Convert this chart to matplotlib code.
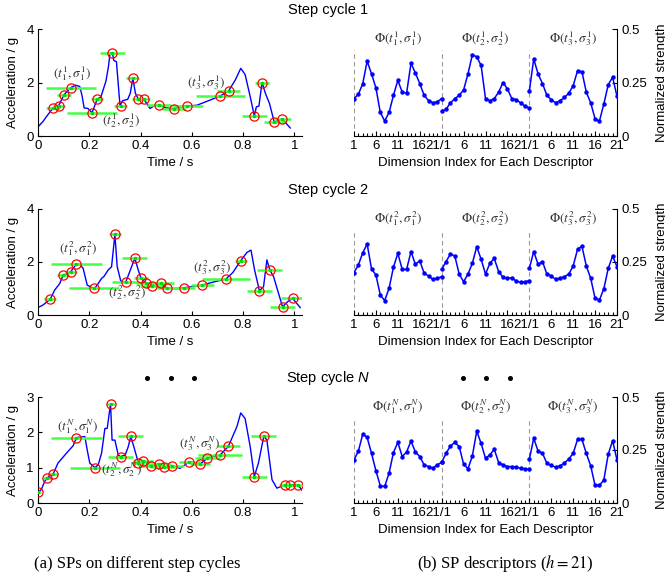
import matplotlib
matplotlib.use('Agg')
import matplotlib.pyplot as plt
import numpy as np
from matplotlib.ticker import MultipleLocator, FixedLocator
from matplotlib.lines import Line2D
from matplotlib.transforms import ScaledTranslation

plt.rcParams['font.family'] = ['Liberation Sans', 'DejaVu Sans']
plt.rcParams['mathtext.fontset'] = 'custom'
plt.rcParams['mathtext.it'] = 'Liberation Sans:italic'
plt.rcParams['mathtext.rm'] = 'Liberation Sans'

# ---------------- data: acceleration curves ----------------
curve1_t = [0, 0.02, 0.035, 0.059, 0.081, 0.102, 0.128, 0.147, 0.163, 0.172, 0.18, 0.195, 0.211, 0.231,
            0.245, 0.265, 0.275, 0.281, 0.29, 0.296, 0.306, 0.32, 0.33, 0.35, 0.36, 0.37, 0.38, 0.391,
            0.413, 0.437, 0.456, 0.472, 0.5, 0.531, 0.56, 0.583, 0.62, 0.66, 0.712, 0.744, 0.77, 0.791,
            0.808, 0.828, 0.844, 0.852, 0.862, 0.874, 0.887, 0.903, 0.922, 0.94, 0.953, 0.984]
curve1_y = [0.34, 0.55, 0.75, 1.05, 1.14, 1.55, 1.81, 1.9, 1.85, 1.5, 1.05, 1.03, 0.87, 1.38,
            1.45, 2.05, 2.6, 3.1, 3.1, 2.82, 2.78, 1.12, 1.32, 1.37, 1.6, 2.16, 1.6, 1.38,
            1.38, 1.03, 1.14, 1.15, 1.05, 1.02, 1.1, 1.12, 1.15, 1.3, 1.5, 1.69, 2.1, 2.53,
            2.3, 1.47, 0.75, 1.09, 1.12, 2.0, 1.6, 1.22, 0.51, 0.6, 0.64, 0.3]

curve2_t = [0, 0.02, 0.048, 0.065, 0.085, 0.098, 0.112, 0.128, 0.15, 0.163, 0.176, 0.192, 0.209, 0.222,
            0.235, 0.248, 0.257, 0.274, 0.287, 0.3, 0.309, 0.323, 0.342, 0.365, 0.378, 0.391, 0.402,
            0.42, 0.443, 0.48, 0.502, 0.54, 0.571, 0.61, 0.641, 0.691, 0.733, 0.76, 0.791, 0.815,
            0.831, 0.845, 0.864, 0.88, 0.893, 0.904, 0.919, 0.954, 0.974, 0.993, 1.023]
curve2_y = [0.28, 0.38, 0.6, 0.94, 1.19, 1.51, 1.55, 1.64, 1.92, 1.91, 1.76, 1.13, 1.04, 1.01,
            1.19, 1.38, 1.45, 1.7, 1.82, 3.04, 1.82, 1.28, 1.23, 1.82, 2.14, 1.7, 1.38,
            1.22, 1.11, 1.19, 1.01, 1.0, 1.03, 1.08, 1.13, 1.26, 1.36, 1.6, 2.05, 2.36,
            2.45, 1.7, 0.91, 1.07, 2.08, 1.71, 1.45, 0.31, 0.5, 0.63, 0.28]

curve3_t = [0, 0.013, 0.026, 0.037, 0.059, 0.078, 0.111, 0.137, 0.15, 0.17, 0.183, 0.192, 0.202, 0.222,
            0.235, 0.248, 0.261, 0.27, 0.283, 0.289, 0.3, 0.313, 0.322, 0.34, 0.352, 0.362, 0.374,
            0.392, 0.411, 0.441, 0.471, 0.492, 0.522, 0.554, 0.591, 0.632, 0.661, 0.711, 0.743,
            0.776, 0.791, 0.808, 0.828, 0.844, 0.86, 0.881, 0.893, 0.913, 0.932, 0.962, 0.984,
            1.014, 1.03]
curve3_y = [0.3, 0.38, 0.61, 0.72, 0.82, 1.13, 1.41, 1.62, 1.85, 1.87, 1.88, 1.5, 1.13, 1.0,
            1.08, 1.41, 2.11, 2.11, 2.81, 1.78, 1.78, 1.36, 1.31, 1.36, 1.59, 1.89, 1.59,
            1.13, 1.2, 1.06, 1.11, 1.01, 1.06, 0.98, 1.17, 1.1, 1.27, 1.36, 1.61,
            2.16, 2.55, 2.39, 1.59, 0.75, 1.13, 1.89, 1.78, 0.66, 0.42, 0.51, 0.52,
            0.52, 0.36]

# ---------------- data: scale points (time, value, scale) ----------------
sp1_t = [0.059, 0.081, 0.102, 0.128, 0.211, 0.231, 0.29, 0.322, 0.370, 0.391, 0.413, 0.472,
         0.531, 0.583, 0.712, 0.744, 0.844, 0.874, 0.922, 0.953]
sp1_y = [1.05, 1.14, 1.55, 1.81, 0.87, 1.38, 3.10, 1.12, 2.16, 1.38, 1.38, 1.15,
         1.02, 1.12, 1.50, 1.69, 0.75, 2.00, 0.51, 0.64]
sp1_s = [0.026, 0.023, 0.026, 0.098, 0.098, 0.023, 0.049, 0.026, 0.026, 0.023, 0.023, 0.046,
         0.046, 0.059, 0.095, 0.046, 0.049, 0.026, 0.042, 0.033]

sp2_t = [0.048, 0.098, 0.128, 0.150, 0.219, 0.300, 0.342, 0.378, 0.402, 0.420, 0.443, 0.480,
         0.502, 0.571, 0.641, 0.733, 0.791, 0.864, 0.904, 0.954, 0.993]
sp2_y = [0.60, 1.51, 1.64, 1.92, 1.01, 3.04, 1.23, 2.14, 1.38, 1.22, 1.11, 1.19,
         1.01, 1.03, 1.13, 1.36, 2.05, 0.91, 1.71, 0.31, 0.63]
sp2_s = [0.024, 0.023, 0.023, 0.098, 0.098, 0.023, 0.052, 0.049, 0.026, 0.039, 0.046, 0.052,
         0.039, 0.042, 0.046, 0.095, 0.023, 0.049, 0.049, 0.049, 0.046]

sp3_t = [0.001, 0.037, 0.059, 0.150, 0.222, 0.283, 0.322, 0.362, 0.392, 0.411, 0.441, 0.471,
         0.492, 0.522, 0.591, 0.632, 0.661, 0.711, 0.743, 0.844, 0.881, 0.962, 0.984, 1.014]
sp3_y = [0.30, 0.72, 0.82, 1.85, 1.00, 2.81, 1.31, 1.89, 1.13, 1.20, 1.06, 1.11,
         1.01, 1.06, 1.17, 1.10, 1.27, 1.36, 1.61, 0.75, 1.89, 0.51, 0.52, 0.52]
sp3_s = [0.011, 0.016, 0.020, 0.098, 0.096, 0.016, 0.049, 0.049, 0.026, 0.039, 0.046, 0.046,
         0.046, 0.046, 0.042, 0.039, 0.049, 0.085, 0.046, 0.049, 0.049, 0.023, 0.026, 0.023]

# ---------------- data: SP descriptors (21 dims each) ----------------
desc1 = [
    [0.175, 0.195, 0.245, 0.35, 0.29, 0.225, 0.11, 0.07, 0.11, 0.19, 0.26, 0.205, 0.2, 0.34,
     0.295, 0.245, 0.19, 0.165, 0.155, 0.16, 0.175],
    [0.115, 0.125, 0.155, 0.175, 0.19, 0.215, 0.29, 0.38, 0.37, 0.33, 0.175, 0.165, 0.175, 0.205,
     0.25, 0.22, 0.175, 0.17, 0.155, 0.14, 0.13],
    [0.21, 0.36, 0.29, 0.245, 0.19, 0.17, 0.155, 0.165, 0.18, 0.2, 0.235, 0.305, 0.3, 0.205,
     0.155, 0.08, 0.07, 0.15, 0.24, 0.275, 0.185],
]
desc2 = [
    [0.20, 0.236, 0.294, 0.335, 0.217, 0.189, 0.094, 0.068, 0.126, 0.225, 0.291, 0.215, 0.215, 0.299,
     0.239, 0.256, 0.197, 0.184, 0.168, 0.173, 0.181],
    [0.215, 0.252, 0.288, 0.278, 0.193, 0.157, 0.193, 0.244, 0.322, 0.263, 0.193, 0.244, 0.267, 0.204,
     0.178, 0.173, 0.176, 0.160, 0.154, 0.157, 0.162],
    [0.22, 0.299, 0.239, 0.252, 0.193, 0.184, 0.168, 0.173, 0.181, 0.193, 0.231, 0.31, 0.325, 0.231,
     0.173, 0.079, 0.071, 0.124, 0.22, 0.278, 0.228],
]
desc3 = [
    [0.203, 0.245, 0.325, 0.309, 0.234, 0.152, 0.081, 0.078, 0.141, 0.238, 0.286, 0.219, 0.241, 0.292,
     0.241, 0.219, 0.18, 0.172, 0.164, 0.18, 0.192],
    [0.192, 0.234, 0.269, 0.286, 0.266, 0.184, 0.161, 0.222, 0.339, 0.281, 0.211, 0.227, 0.253, 0.191,
     0.18, 0.172, 0.172, 0.169, 0.164, 0.161, 0.159],
    [0.206, 0.305, 0.245, 0.234, 0.188, 0.177, 0.169, 0.175, 0.188, 0.208, 0.234, 0.30, 0.30, 0.234,
     0.175, 0.083, 0.083, 0.109, 0.23, 0.294, 0.203],
]

cycle_titles = ["Step cycle 1", "Step cycle 2", "Step cycle $N$"]
cycle_sup = ["1", "2", "N"]
left_ylim = [4, 4, 3]
left_yticks = [[0, 2, 4], [0, 2, 4], [0, 1, 2, 3]]
time_ticks = [0, 0.2, 0.4, 0.6, 0.8, 1]
time_ticklabels = ["0", "0.2", "0.4", "0.6", "0.8", "1"]
dim_ticks = [1, 6, 11, 16, 21, 26, 31, 36, 41, 46, 51, 56, 61]
dim_ticklabels = ["1", "6", "11", "16", "21/1", "6", "11", "16", "21/1", "6", "11", "16", "21"]
strength_ticks = [0, 0.25, 0.5]
strength_ticklabels = ["0", "0.25", "0.5"]

# label positions (data coords) for (t_k, sigma_k) annotations
lab_pos = [
    [(0.134, 2.32), (0.326, 0.59), (0.658, 1.99)],
    [(0.156, 2.49), (0.346, 0.86), (0.678, 1.79)],
    [(0.156, 2.17), (0.326, 0.94), (0.632, 1.67)],
]

curves = [(curve1_t, curve1_y), (curve2_t, curve2_y), (curve3_t, curve3_y)]
sps = [(sp1_t, sp1_y, sp1_s), (sp2_t, sp2_y, sp2_s), (sp3_t, sp3_y, sp3_s)]
descs = [desc1, desc2, desc3]

W, H = 665, 582
fig = plt.figure(figsize=(W / 100, H / 100), dpi=100)


def fax(x0, y0, x1, y1):
    return fig.add_axes([x0 / W, 1 - y1 / H, (x1 - x0) / W, (y1 - y0) / H])


row_y = [(29, 136), (209, 315), (397, 503)]
title_y = [10, 190, 378]
GREEN = '#44ff44'
BLUE = '#0000ff'
TXT = '#333333'
FS = 9.5
right_axes = []

for i in range(3):
    y0, y1 = row_y[i]
    # ---------- left panel ----------
    ax = fax(38, y0, 302, y1)
    ct, cy = curves[i]
    ax.plot(ct, cy, color=BLUE, lw=1.0, zorder=2)
    st, sy, ss = sps[i]
    st = np.array(st); sy = np.array(sy); ss = np.array(ss)
    ax.hlines(sy, st - ss, st + ss, color=GREEN, lw=1.8, zorder=3)
    ax.plot(st, sy, 'o', mfc='none', mec='#ff0000', ms=6.6, mew=0.9, zorder=4)
    ax.plot(st, sy, '.', color='#00dd00', ms=3, zorder=5)
    for k, (lx, ly) in enumerate(lab_pos[i]):
        s = cycle_sup[i]
        ax.text(lx, ly, r"$(t_{%d}^{%s},\sigma_{%d}^{%s})$" % (k + 1, s, k + 1, s),
                math_fontfamily='stix', fontsize=9.5, color=TXT, ha='center', va='center')
    ax.set_xlim(0, 1.03)
    ax.set_ylim(0, left_ylim[i])
    ax.set_xticks(time_ticks)
    ax.set_xticklabels(time_ticklabels)
    ax.set_yticks(left_yticks[i])
    ax.spines['top'].set_visible(False)
    ax.spines['right'].set_visible(False)
    ax.tick_params(direction='in', length=3, width=0.8, labelsize=FS, pad=3)
    ax.set_xlabel("Time / s", fontsize=FS)
    ax.xaxis.label.set_va('center')
    ax.xaxis.set_label_coords(0.5, -(163 - 136) / 107)
    ax.set_ylabel("Acceleration / g", fontsize=FS)
    ax.yaxis.label.set_va('center')
    ax.yaxis.set_label_coords(-(38 - 13) / 264, 0.5)

    # ---------- right panel ----------
    bx = fax(354, y0, 617, y1)
    right_axes.append(bx)
    for k in range(3):
        idx = np.arange(1, 22) + 20 * k
        bx.plot(idx, descs[i][k], '-o', color=BLUE, lw=1.1, ms=2.2, zorder=3)
        bx.vlines(1 + 20 * k, 0, 0.40, color='#999999', lw=0.8, linestyles=(0, (4, 3)), zorder=1)
        s = cycle_sup[i]
        bx.text(11 + 20 * k, 0.455, r"$\Phi(t_{%d}^{%s},\sigma_{%d}^{%s})$" % (k + 1, s, k + 1, s),
                math_fontfamily='stix', fontsize=9.5, color=TXT, ha='center', va='center')
    bx.set_xlim(1, 61)
    bx.set_ylim(0, 0.5)
    bx.xaxis.set_major_locator(FixedLocator(dim_ticks))
    bx.set_xticklabels(dim_ticklabels)
    bx.xaxis.set_minor_locator(MultipleLocator(1))
    bx.yaxis.tick_right()
    bx.yaxis.set_label_position('right')
    bx.set_yticks(strength_ticks)
    bx.set_yticklabels(strength_ticklabels)
    bx.spines['top'].set_visible(False)
    bx.spines['left'].set_visible(False)
    bx.tick_params(which='major', direction='in', length=3.5, width=0.8, labelsize=FS, pad=3)
    bx.tick_params(which='minor', direction='in', length=2.2, width=0.8)
    bx.set_xlabel("Dimension Index for Each Descriptor", fontsize=FS)
    bx.xaxis.label.set_va('center')
    bx.xaxis.set_label_coords(0.5, -(163 - 136) / 107)
    bx.set_ylabel("Normalized strength", fontsize=FS)
    bx.yaxis.label.set_va('center')
    bx.yaxis.label.set_rotation(90)
    bx.yaxis.set_label_coords((662 - 354) / 263, 0.5)

    fig.text(328 / W, 1 - title_y[i] / H, cycle_titles[i], ha='center', va='center', fontsize=10.5)

# ellipsis dots
for xs in ([147, 171, 194], [463, 486, 510]):
    fig.add_artist(Line2D([x / W for x in xs], [1 - 378 / H] * 3, transform=fig.transFigure,
                          marker='o', ls='none', ms=2.6, color='black'))

fig.text(137 / W, 1 - 564 / H, "(a) SPs on different step cycles", family='Liberation Serif',
         fontsize=12, ha='center', va='center')
fig.text(505 / W, 1 - 564 / H, "(b) SP descriptors ($h=21$)", family='Liberation Serif',
         math_fontfamily='stix', fontsize=12, ha='center', va='center')

fig.canvas.draw()
shift = ScaledTranslation(-3 / 100, 0, fig.dpi_scale_trans)
for bx in right_axes:
    for lbl in bx.get_xticklabels():
        if lbl.get_text() == "21/1":
            lbl.set_transform(lbl.get_transform() + shift)

fig.savefig('out.png', dpi=100)
